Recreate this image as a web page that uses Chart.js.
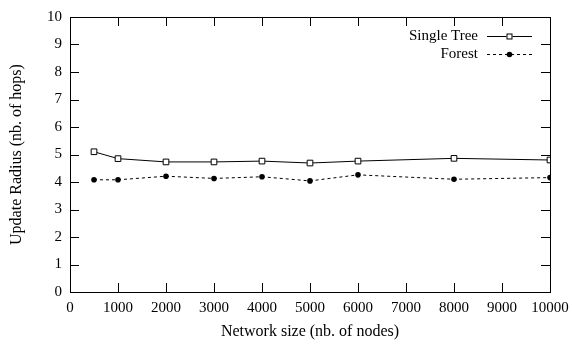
<!DOCTYPE html>
<html>
<head>
<meta charset="utf-8">
<script src="https://cdn.jsdelivr.net/npm/chart.js@4"></script>
<style>
  html, body { margin: 0; padding: 0; background: #fff; }
  #wrap { width: 572px; height: 345px; }
</style>
</head>
<body>
<div id="wrap"><canvas id="chart" width="572" height="345"></canvas></div>
<script>
// Network sizes (x) and update radius per scheme
const networkSizes = [500, 1000, 2000, 3000, 4000, 5000, 6000, 8000, 10000];
const singleTree = [5.10, 4.85, 4.73, 4.73, 4.76, 4.69, 4.76, 4.86, 4.80];
const forest = [4.08, 4.08, 4.21, 4.13, 4.19, 4.04, 4.26, 4.10, 4.16];

const xTicks = [0, 1000, 2000, 3000, 4000, 5000, 6000, 7000, 8000, 9000, 10000];
const yTicks = [0, 1, 2, 3, 4, 5, 6, 7, 8, 9, 10];

const FONT = 'Liberation Serif';

function toPoints(values) {
    return networkSizes.map((x, i) => ({ x: x, y: values[i] }));
}

// gnuplot-ish frame: border box + inward ticks on all four sides
const framePlugin = {
    id: 'frame',
    afterDatasetsDraw(chart) {
        const { ctx, chartArea: a, scales } = chart;
        const len = 9;
        ctx.save();
        ctx.strokeStyle = '#000';
        ctx.lineWidth = 1;
        ctx.beginPath();
        xTicks.forEach(v => {
            const px = Math.round(scales.x.getPixelForValue(v)) + 0.5;
            ctx.moveTo(px, a.bottom); ctx.lineTo(px, a.bottom - len);
            ctx.moveTo(px, a.top); ctx.lineTo(px, a.top + len);
        });
        yTicks.forEach(v => {
            const py = Math.round(scales.y.getPixelForValue(v)) + 0.5;
            ctx.moveTo(a.left, py); ctx.lineTo(a.left + len, py);
            ctx.moveTo(a.right, py); ctx.lineTo(a.right - len, py);
        });
        ctx.stroke();
        ctx.strokeRect(Math.round(a.left) + 0.5, Math.round(a.top) + 0.5,
            Math.round(a.right - a.left), Math.round(a.bottom - a.top));

        // key in the top right corner, text right aligned before the sample
        ctx.font = '15px ' + FONT;
        ctx.fillStyle = '#000';
        ctx.textAlign = 'right';
        ctx.textBaseline = 'middle';
        const textRight = a.right - 72;
        const x0 = a.right - 63, x1 = a.right - 18, xm = (x0 + x1) / 2;
        chart.data.datasets.forEach((ds, i) => {
            const y = a.top + 19 + i * 18;
            ctx.fillText(ds.label, textRight, y);
            ctx.beginPath();
            ctx.setLineDash(ds.borderDash || []);
            ctx.moveTo(x0, y + 0.5); ctx.lineTo(x1, y + 0.5);
            ctx.stroke();
            ctx.setLineDash([]);
            if (ds.pointStyle === 'rect') {
                ctx.fillStyle = '#fff';
                ctx.fillRect(xm - 3, y - 2.5, 6, 6);
                ctx.strokeRect(xm - 3 + 0.5, y - 2.5 + 0.5, 5, 5);
                ctx.fillStyle = '#000';
            } else {
                ctx.beginPath();
                ctx.arc(xm, y + 0.5, 2.8, 0, Math.PI * 2);
                ctx.fill();
            }
        });
        ctx.restore();
    }
};

new Chart(document.getElementById('chart'), {
    type: 'line',
    data: {
        datasets: [{
            label: 'Single Tree',
            data: toPoints(singleTree),
            borderColor: '#000',
            borderWidth: 1,
            pointStyle: 'rect',
            pointRadius: 4,
            pointBorderWidth: 1,
            pointBorderColor: '#000',
            pointBackgroundColor: '#fff',
            tension: 0
        }, {
            label: 'Forest',
            data: toPoints(forest),
            borderColor: '#000',
            borderWidth: 1,
            borderDash: [3, 3],
            pointStyle: 'circle',
            pointRadius: 2.8,
            pointBorderWidth: 0,
            pointBackgroundColor: '#000',
            tension: 0
        }]
    },
    options: {
        responsive: false,
        animation: false,
        devicePixelRatio: 1,
        layout: { padding: { top: 11, right: 22, left: 0, bottom: 0 } },
        plugins: {
            legend: { display: false },
            tooltip: { enabled: false }
        },
        scales: {
            x: {
                type: 'linear',
                min: 0,
                max: 10000,
                afterBuildTicks: s => { s.ticks = xTicks.map(v => ({ value: v })); },
                afterFit: s => { s.height = 53; s.paddingLeft = 0; s.paddingRight = 0; },
                grid: { display: false, drawTicks: false },
                border: { display: false },
                ticks: {
                    padding: 7,
                    color: '#000',
                    maxRotation: 0,
                    callback: v => String(v),
                    font: { family: FONT, size: 15 }
                },
                title: {
                    display: true,
                    text: 'Network size (nb. of nodes)',
                    color: '#000',
                    font: { family: FONT, size: 16 },
                    padding: { top: 3 }
                }
            },
            y: {
                min: 0,
                max: 10,
                afterBuildTicks: s => { s.ticks = yTicks.map(v => ({ value: v })); },
                afterFit: s => { s.width = 70; },
                grid: { display: false, drawTicks: false },
                border: { display: false },
                ticks: {
                    padding: 8,
                    color: '#000',
                    font: { family: FONT, size: 15 }
                },
                title: {
                    display: true,
                    text: 'Update Radius (nb. of hops)',
                    color: '#000',
                    font: { family: FONT, size: 16 },
                    padding: { top: 7, bottom: 0 }
                }
            }
        }
    },
    plugins: [framePlugin]
});
</script>
</body>
</html>
